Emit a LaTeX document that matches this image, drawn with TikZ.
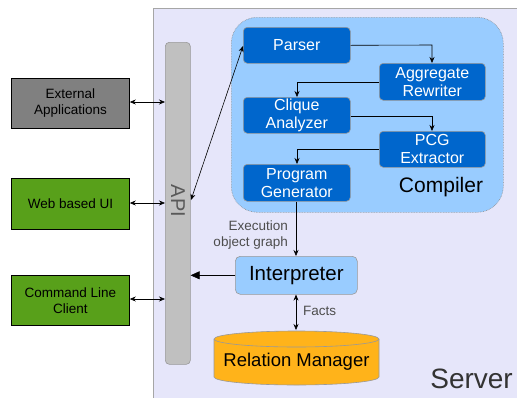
\documentclass[tikz,border=0pt]{standalone}
\usepackage{fontspec}
\setmainfont{Liberation Sans}
\usetikzlibrary{arrows.meta,shapes.geometric,positioning}
\definecolor{serverbg}{HTML}{E6E6FA}
\definecolor{compbg}{HTML}{99CCFF}
\definecolor{compbox}{HTML}{0066CC}
\definecolor{extgray}{HTML}{808080}
\definecolor{webgreen}{HTML}{58A01A}
\definecolor{relorange}{HTML}{FFB31A}
\definecolor{apigray}{HTML}{C0C0C0}
\definecolor{labelgray}{HTML}{4D4D4D}
\begin{document}
\begin{tikzpicture}[x=1pt,y=-1pt,
  clientbox/.style={draw=black,line width=0.8pt,minimum width=118pt,minimum height=50pt,align=center,font=\fontsize{13.5}{16}\selectfont,inner sep=0pt},
  compstep/.style={draw=black!40,line width=0.6pt,fill=compbox,rounded corners=4pt,minimum width=107pt,minimum height=36pt,align=center,text=white,font=\fontsize{16}{18}\selectfont,inner sep=0pt},
  conn/.style={-{Stealth[length=6pt,width=5pt]},line width=0.6pt},
  biconn/.style={{Stealth[length=6pt,width=5pt]}-{Stealth[length=6pt,width=5pt]},line width=0.6pt},
  lbl/.style={text=labelgray,font=\fontsize{13.5}{16}\selectfont,inner sep=0pt}
]
\useasboundingbox (0,0) rectangle (517,397);
% server
\node[draw=black!35,fill=serverbg,line width=0.8pt,minimum width=370pt,minimum height=395pt,anchor=north west,inner sep=0pt] (server) at (153,8) {};
\node[anchor=south east,text=black!80,font=\fontsize{28}{30}\selectfont,inner sep=0pt] (servertxt) at (513,389) {Server};
% API
\node[draw=black!40,fill=apigray,rounded corners=4pt,line width=0.6pt,minimum width=25pt,minimum height=322pt,anchor=north west,inner sep=0pt] (api) at (165,42) {};
\node[rotate=-90,text=black!65,font=\fontsize{20}{22}\selectfont,inner sep=0pt] (apitxt) at (178,201) {API};
% clients
\node[clientbox,fill=extgray,anchor=north west] (ext) at (11,78) {External\\Applications};
\node[clientbox,fill=webgreen,anchor=north west,minimum height=51pt] (web) at (11,178) {Web based UI};
\node[clientbox,fill=webgreen,anchor=north west] (cmd) at (11,275) {Command Line\\Client};
% compiler
\node[draw=black!45,densely dotted,fill=compbg,rounded corners=26pt,line width=0.6pt,minimum width=272pt,minimum height=195pt,anchor=north west,inner sep=0pt] (compiler) at (231,17) {};
\node[font=\fontsize{21}{23}\selectfont,inner sep=0pt] (comptxt) at (441,187) {Compiler};
\node[compstep,anchor=north west] (parser) at (243,27) {Parser};
\node[compstep,anchor=north west,minimum width=106pt,minimum height=37pt] (agg) at (379,63) {Aggregate\\Rewriter};
\node[compstep,anchor=north west] (clique) at (243,97) {Clique\\Analyzer};
\node[compstep,anchor=north west,minimum width=106pt] (pcg) at (379,131) {PCG\\Extractor};
\node[compstep,anchor=north west,minimum height=37pt] (prog) at (243,164) {Program\\Generator};
% interpreter
\node[draw=black!40,fill=compbg,rounded corners=5pt,line width=0.6pt,minimum width=122pt,minimum height=38pt,anchor=north west,inner sep=0pt,font=\fontsize{20.5}{22}\selectfont] (interp) at (235,256) {Interpreter};
% relation manager (cylinder)
\filldraw[draw=black!40,fill=relorange,line width=0.6pt]
  (214,339) -- (214,377) arc[start angle=180,end angle=360,x radius=82.5pt,y radius=8pt]
  -- (379,339) arc[start angle=0,end angle=180,x radius=82.5pt,y radius=8pt] -- cycle;
\draw[draw=black!40,line width=0.6pt] (214,339) arc[start angle=180,end angle=360,x radius=82.5pt,y radius=8pt];
\node[font=\fontsize{18.5}{20}\selectfont,inner sep=0pt] (rel) at (296.5,362) {Relation Manager};
\coordinate (reltop) at (296,330);
% compiler flow
\draw[conn] (parser.east) -- (432,45) -- (agg.north -| 432,0);
\draw[conn] (agg.west |- 0,82) -- (297,82) -- (clique.north -| 297,0);
\draw[conn] (clique.east |- 0,116) -- (432,116) -- (pcg.north -| 432,0);
\draw[conn] (pcg.west |- 0,149) -- (297,149) -- (prog.north -| 297,0);
\draw[conn] (prog.south -| 296,0) -- (interp.north -| 296,0);
\node[lbl,align=right,anchor=east] (execlbl) at (288,235) {Execution\\object graph};
% interpreter to API
\draw[-{Triangle[length=9pt,width=8pt]},line width=0.6pt] (interp.west) -- (api.east |- interp.west);
% facts
\draw[biconn] (interp.south -| 296,0) -- (reltop);
\node[lbl,anchor=west] (factslbl) at (303,311) {Facts};
% clients to API
\draw[biconn] (ext.east |- 0,102) -- (api.west |- 0,102);
\draw[biconn] (web.east |- 0,203) -- (api.west |- 0,203);
\draw[biconn] (cmd.east |- 0,299) -- (api.west |- 0,299);
% API to parser
\coordinate (apiparser) at (191,200);
\draw[biconn] (apiparser) -- (243,46);
\end{tikzpicture}
\end{document}
